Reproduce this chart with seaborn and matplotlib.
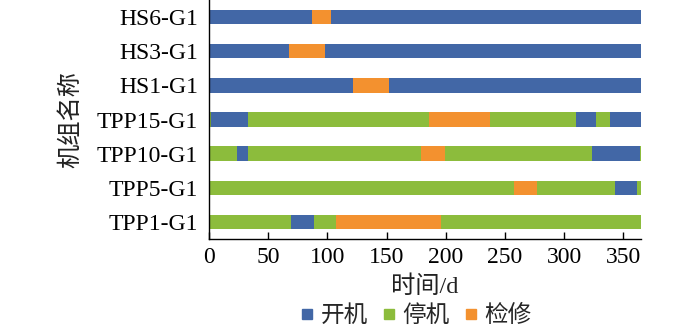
import matplotlib
matplotlib.use("Agg")
import matplotlib.pyplot as plt
from matplotlib.lines import Line2D
import seaborn as sns
import pandas as pd

# Units, bottom to top
units = ["TPP1-G1", "TPP5-G1", "TPP10-G1", "TPP15-G1", "HS1-G1", "HS3-G1", "HS6-G1"]

# State periods per unit: end day of each period and its state
tpp1_ends = [69, 89, 107, 196, 365]
tpp1_states = ["停机", "开机", "停机", "检修", "停机"]
tpp5_ends = [258, 277, 343, 362, 365]
tpp5_states = ["停机", "检修", "停机", "开机", "停机"]
tpp10_ends = [24, 33, 179, 199, 324, 364, 365]
tpp10_states = ["停机", "开机", "停机", "检修", "停机", "开机", "停机"]
tpp15_ends = [2, 33, 186, 237, 310, 327, 339, 365]
tpp15_states = ["停机", "开机", "停机", "检修", "停机", "开机", "停机", "开机"]
hs1_ends = [122, 152, 365]
hs1_states = ["开机", "检修", "开机"]
hs3_ends = [68, 98, 365]
hs3_states = ["开机", "检修", "开机"]
hs6_ends = [87, 103, 365]
hs6_states = ["开机", "检修", "开机"]

states = ["开机", "停机", "检修"]
palette = {"开机": "#4267A6", "停机": "#8CBC3C", "检修": "#F3912F"}

schedule = {
    "TPP1-G1": (tpp1_ends, tpp1_states),
    "TPP5-G1": (tpp5_ends, tpp5_states),
    "TPP10-G1": (tpp10_ends, tpp10_states),
    "TPP15-G1": (tpp15_ends, tpp15_states),
    "HS1-G1": (hs1_ends, hs1_states),
    "HS3-G1": (hs3_ends, hs3_states),
    "HS6-G1": (hs6_ends, hs6_states),
}

rows = []
for unit in units:
    ends, sts = schedule[unit]
    start = 0
    for end, st in zip(ends, sts):
        rows.append({"unit": unit, "start": start, "days": end - start, "state": st})
        start = end
df = pd.DataFrame(rows)

sns.set_theme(style="white")
plt.rcParams["font.family"] = ["Liberation Serif", "Noto Sans CJK SC"]
plt.rcParams["axes.unicode_minus"] = False

fig = plt.figure(figsize=(7.0, 3.29), dpi=100)
ax = fig.add_axes([209 / 700, 1 - 239 / 329, (641 - 209) / 700, 239 / 329])

ypos = {u: i for i, u in enumerate(units)}
for _, r in df.iterrows():
    ax.barh(ypos[r["unit"]], r["days"], left=r["start"], height=0.42,
            color=palette[r["state"]], edgecolor="none", linewidth=0)

ax.set_ylim(-0.5, len(units) - 0.5)
ax.set_xlim(0, 365)
ax.set_yticks(range(len(units)))
ax.set_yticklabels(units)
ax.set_xticks(range(0, 351, 50))

for side in ["top", "right"]:
    ax.spines[side].set_visible(False)
for side in ["left", "bottom"]:
    ax.spines[side].set_color("black")
    ax.spines[side].set_linewidth(1.0)

ax.tick_params(axis="x", direction="in", length=5, width=1, color="black",
               labelsize=17, pad=6, bottom=True)
ax.tick_params(axis="y", length=0, labelsize=17, pad=8, left=False)
for lbl in ax.get_xticklabels() + ax.get_yticklabels():
    lbl.set_color("black")

ax.set_xlabel("时间/d", fontsize=17.5, color="#222222", labelpad=5)
ax.set_ylabel("机组名称", fontsize=17.5, color="#222222", labelpad=10)

handles = [Line2D([0], [0], marker="s", linestyle="none", markersize=7,
                  markerfacecolor=palette[s], markeredgecolor=palette[s]) for s in states]
fig.legend(handles, states, loc="center", bbox_to_anchor=(416 / 700, 1 - 316 / 329),
           ncol=3, frameon=False, fontsize=17, handletextpad=0.25,
           columnspacing=0.62, handlelength=0.6)

fig.savefig("out.png", dpi=100)
